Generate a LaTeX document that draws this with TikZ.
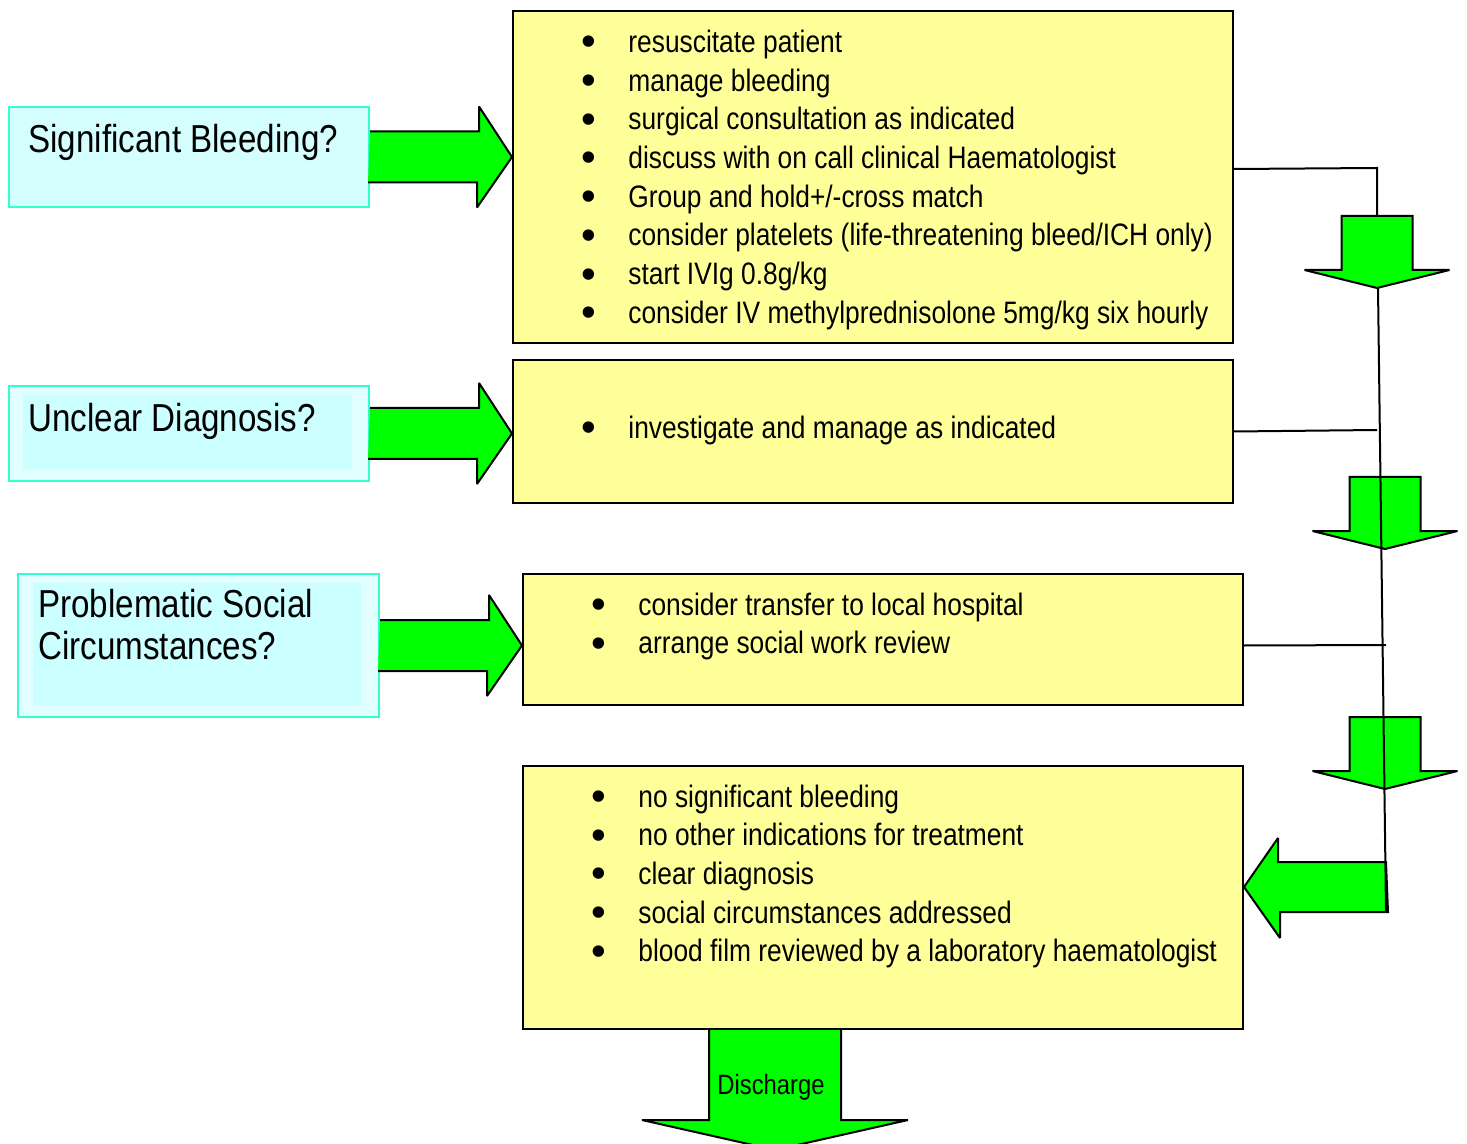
\documentclass[tikz,border=0pt]{standalone}
\usepackage{fontspec}
\setmainfont[FakeStretch=0.85]{Liberation Sans}
\newfontfamily\bulfont{Liberation Sans}
\definecolor{notepad}{HTML}{FFFF99}
\definecolor{queryfill}{HTML}{CCFFFF}
\definecolor{querypale}{HTML}{E2FFFF}
\definecolor{queryrim}{HTML}{33FFCC}
\definecolor{flowgreen}{HTML}{00FF00}
\newcommand{\bul}{\llap{\raisebox{-1.7pt}{\bulfont\fontsize{21}{21}\selectfont\textbullet}\hspace{16.3pt}}}

\begin{document}
\begin{tikzpicture}[x=0.5pt,y=-0.5pt,
 ybox/.style={draw,fill=notepad,line width=1pt,inner sep=0,anchor=north west},
 qbox/.style={draw=queryrim,fill=querypale,line width=1pt,inner sep=0,anchor=north west},
 qinner/.style={fill=queryfill,inner sep=0,anchor=north west},
 qtext/.style={anchor=base west,inner sep=0,font=\fontsize{19.5}{23}\selectfont},
 item/.style={anchor=base west,inner sep=0,font=\fontsize{15.5}{19}\selectfont},
 block/.style={fill=flowgreen,draw=black,line width=1pt,line join=miter,miter limit=3},
 link/.style={line width=1pt}]

\useasboundingbox (0,0) rectangle (1467,1144);

%questions
  \node[qbox,fill=queryfill!60!querypale,minimum width=180pt,minimum height=50pt] (q1) at (8,106) {};
  \node[qtext] (t1) at (28,152.7) {Significant Bleeding?};
  \node[qbox,minimum width=180pt,minimum height=47.5pt] (q2) at (8,385) {};
  \node[qinner,minimum width=164.5pt,minimum height=37.5pt] (q2i) at (23,395) {};
  \node[qtext] (t2) at (28,431) {Unclear Diagnosis?};
  \node[qbox,minimum width=180.5pt,minimum height=71.5pt] (q3) at (17,573) {};
  \node[qinner,minimum width=164pt,minimum height=61.5pt] (q3i) at (33,583) {};
  \node[qtext] (t3) at (38,617.7) {Problematic Social};
  \node[qtext] (t4) at (38,659) {Circumstances?};

%actions
  \node[ybox,minimum width=360pt,minimum height=166pt] (act1) at (512,10) {};
  \node[ybox,minimum width=360pt,minimum height=71.5pt] (act2) at (512,359) {};
  \node[ybox,minimum width=360pt,minimum height=65.5pt] (act3) at (522,573) {};
  \node[ybox,minimum width=360pt,minimum height=131.5pt] (act4) at (522,765) {};

  \foreach \txt [count=\i] in {resuscitate patient, manage bleeding,
      surgical consultation as indicated, discuss with on call clinical Haematologist,
      Group and hold+/-cross match, {consider platelets (life-threatening bleed/ICH only)},
      start IVIg 0.8g/kg, consider IV methylprednisolone 5mg/kg six hourly}
    \node[item] (a\i) at (628,{52.5+38.7*(\i-1)}) {\bul\txt};
  \node[item] (b1) at (628,438.5) {\bul investigate and manage as indicated};
  \foreach \txt [count=\i] in {consider transfer to local hospital, arrange social work review}
    \node[item] (c\i) at (638,{615+38.7*(\i-1)}) {\bul\txt};
  \foreach \txt [count=\i] in {no significant bleeding, no other indications for treatment,
      clear diagnosis, social circumstances addressed,
      blood film reviewed by a laboratory haematologist}
    \node[item] (e\i) at (638,{807+38.7*(\i-1)}) {\bul\txt};

%arrows into the actions
  \filldraw[block] (q1.east) ++(0,-25.5) -- ++(109,0) -- ++(0,-25) -- (act1.west |- q1.east)
    -- ++(-35,50.5) -- ++(0,-25) -- ++(-109,0);
  \filldraw[block] (q2.east) ++(0,-25.5) -- ++(109,0) -- ++(0,-25) -- (act2.west |- q2.east)
    -- ++(-35,50.5) -- ++(0,-25) -- ++(-109,0);
  \filldraw[block] (q3.east) ++(0,-25.5) -- ++(109,0) -- ++(0,-25) -- (act3.west |- q3.east)
    -- ++(-35,50.5) -- ++(0,-25) -- ++(-109,0);

%right hand side
  \coordinate (c1) at (1377,168);
  \coordinate (cc2) at (1377,430);
  \coordinate (cc3) at (1386,645);
  \coordinate (d1) at (1377,216);
  \coordinate (d2) at (1385,477);
  \coordinate (d3) at (1385,717);
  \coordinate (la) at (1386,887);
  \foreach \arr in {d1,d2,d3}
    \filldraw[block] (\arr) ++(-35.5,0) -- ++(71,0) -- ++(0,54) -- ++(37,0)
      -- ++(-72.5,18) -- ++(-72.5,-18) -- ++(37,0) -- cycle;
  \filldraw[block] (la) ++(0,-25) -- ++(-108,0) -- ++(0,-24) -- (act4.east |- la)
    -- ++(36,51) -- ++(0,-26) -- ++(108,0) -- cycle;
  \draw[link] ([yshift=4pt]act1.east) -- (c1) -- (d1);
  \draw[link] (d1) ++(1,72) -- ++(8,624);
  \draw[link] (act2.east) -- (cc2);
  \draw[link] ([yshift=-3pt]act3.east) -- (cc3);

%discharge
  \coordinate (dis) at ([xshift=-54pt]act4.south);
  \filldraw[block] (dis) ++(-66,0) -- ++(0,90) -- ++(-67,0) -- ++(133,30) -- ++(133,-30)
    -- ++(-67,0) -- ++(0,-90);
  \node[font=\fontsize{14}{16}\selectfont,anchor=base] (dc) at (771,1094) {Discharge};
\end{tikzpicture}
\end{document}
